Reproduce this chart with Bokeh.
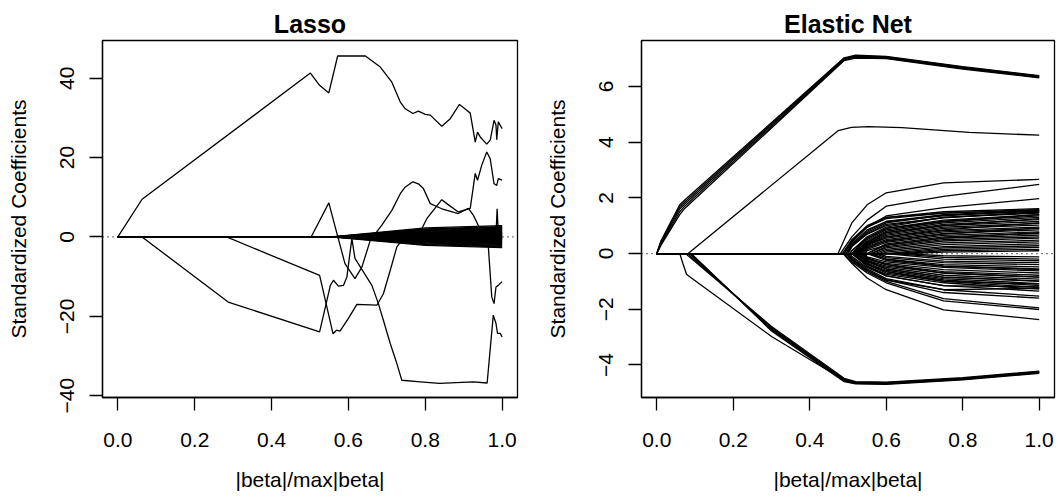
from bokeh.plotting import figure
from bokeh.layouts import row
from bokeh.models import Span, FixedTicker, Range1d
from bokeh.embed import file_html
from bokeh.resources import INLINE

# ---------------- data ----------------
x_ticks = [0.0, 0.2, 0.4, 0.6, 0.8, 1.0]
lasso_y_ticks = [-40, -20, 0, 20, 40]
enet_y_ticks = [-4, -2, 0, 2, 4, 6]

# Lasso: prominent coefficient paths
lasso_A_x = [0, 0.063, 0.501, 0.525, 0.549, 0.572, 0.644, 0.683, 0.713, 0.735, 0.748, 0.768, 0.782, 0.800, 0.813,
             0.843, 0.865, 0.889, 0.908, 0.917, 0.930, 0.936, 0.943, 0.960, 0.969, 0.979, 0.984, 0.986, 0.990, 1.0]
lasso_A_y = [0, 9.5, 41.3, 38.2, 36.3, 45.6, 45.6, 42.8, 39.0, 34.0, 32.3, 31.1, 31.7, 30.9, 30.7,
             27.9, 29.8, 33.4, 31.9, 31.2, 23.9, 26.4, 25.2, 23.4, 24.4, 29.4, 28.2, 24.5, 29.0, 27.3]
lasso_B_x = [0, 0.503, 0.549, 0.570, 0.591, 0.617, 0.635, 0.657, 0.687, 0.713, 0.735, 0.748, 0.768, 0.782, 0.795,
             0.813, 0.843, 0.886, 0.912, 0.925, 0.940, 1.0]
lasso_B_y = [0, 0, 8.6, 0.9, -6.7, -10.5, -7.6, -0.8, 3.0, 6.7, 10.9, 12.6, 13.9, 13.4, 12.2,
             8.4, 7.1, 5.9, 7.2, 5.5, 2.5, 2.2]
lasso_C_x = [0, 0.283, 0.525, 0.560, 0.569, 0.578, 0.600, 0.622, 0.674, 0.691, 0.710, 0.726, 0.750, 0.787, 0.804,
             0.843, 0.856, 0.886, 0.917, 0.925, 0.930, 0.936, 0.947, 0.960, 0.969, 0.979, 0.986, 0.990, 1.0]
lasso_C_y = [0, 0, -9.7, -24.4, -23.5, -23.7, -20.5, -17.0, -17.2, -14.3, -8.0, -2.5, 0.5, 1.3, 4.6,
             9.4, 8.4, 6.3, 7.2, 12.6, 16.0, 14.3, 18.1, 21.4, 19.7, 13.4, 13.0, 14.7, 14.3]
lasso_D_x = [0, 0.063, 0.287, 0.525, 0.553, 0.561, 0.574, 0.587, 0.596, 0.605, 0.609, 0.617, 0.639, 0.661, 0.678,
             0.691, 0.709, 0.726, 0.739, 0.787, 0.837, 0.925, 0.961, 0.977, 0.984, 0.988, 0.995, 1.0]
lasso_D_y = [0, 0, -16.4, -23.9, -12.2, -10.9, -12.4, -12.2, -10.1, -3.3, -0.4, -5.4, -8.8, -12.2, -16.8,
             -21.0, -26.9, -31.9, -36.1, -36.5, -36.9, -36.5, -36.8, -19.7, -21.8, -24.3, -24.3, -25.2]
lasso_E_x = [0, 0.62, 0.964, 0.973, 0.979, 0.984, 0.990, 0.995, 1.0]
lasso_E_y = [0, 0, -2.3, -15.1, -16.8, -12.6, -12.2, -11.7, -11.3]
lasso_F_x = [0, 0.97, 0.984, 0.987, 0.990, 1.0]
lasso_F_y = [0, 0, 0.5, 7.1, 0.8, 1.0]

# Lasso: many small coefficients (entry point, value at 0.8, value at 1.0)
lasso_fan_start = [0.555, 0.558, 0.560, 0.562, 0.565, 0.570, 0.575, 0.580, 0.590, 0.600, 0.620, 0.640, 0.670,
                   0.700, 0.740, 0.780, 0.850, 0.900, 0.950,
                   0.555, 0.558, 0.560, 0.563, 0.567, 0.570, 0.575, 0.580, 0.590, 0.600, 0.620, 0.640, 0.670,
                   0.700, 0.740, 0.780, 0.850, 0.900, 0.950, 0.565, 0.585, 0.610, 0.660, 0.720]
lasso_fan_mid = [2.3, 2.0, 1.8, 1.6, 1.4, 1.2, 1.0, 0.9, 0.8, 0.7, 0.55, 0.45, 0.35,
                 0.25, 0.15, 0.05, 0, 0, 0,
                 -2.1, -1.9, -1.7, -1.5, -1.3, -1.15, -1.0, -0.9, -0.8, -0.7, -0.55, -0.45, -0.35,
                 -0.25, -0.15, -0.05, 0, 0, 0, 1.9, 1.1, -0.6, 0.3, -0.2]
lasso_fan_end = [2.85, 2.6, 2.4, 2.2, 2.0, 1.8, 1.6, 1.4, 1.25, 1.1, 0.95, 0.8, 0.65,
                 0.5, 0.4, 0.3, 0.2, 0.15, 0.1,
                 -2.7, -2.5, -2.3, -2.1, -1.9, -1.7, -1.5, -1.35, -1.2, -1.05, -0.9, -0.75, -0.6,
                 -0.45, -0.35, -0.28, -0.2, -0.15, -0.1, 2.5, 1.7, -1.2, 0.55, -0.5]

# Elastic net: upper bundle
enet_up_x = [0, 0.011, 0.06, 0.073, 0.49, 0.52, 0.6, 0.8, 1.0]
enet_up1_y = [0, 0.30, 1.40, 1.62, 6.93, 7.02, 7.00, 6.62, 6.31]
enet_up2_y = [0, 0.34, 1.50, 1.70, 6.96, 7.05, 7.02, 6.65, 6.33]
enet_up3_y = [0, 0.38, 1.60, 1.78, 6.99, 7.08, 7.04, 6.67, 6.35]
enet_up4_y = [0, 0.42, 1.68, 1.85, 7.01, 7.10, 7.06, 6.69, 6.37]
enet_up5_y = [0, 0.46, 1.75, 1.92, 7.03, 7.12, 7.08, 6.71, 6.39]
# Elastic net: middle path
enet_mid_x = [0, 0.082, 0.474, 0.509, 0.553, 0.641, 0.817, 1.0]
enet_mid_y = [0, 0, 4.41, 4.53, 4.56, 4.52, 4.35, 4.25]
# Elastic net: lower bundle
enet_lo0_x = [0, 0.06, 0.068, 0.078, 0.3, 0.49, 0.52, 0.6, 0.8, 1.0]
enet_lo0_y = [0, 0, -0.35, -0.75, -2.98, -4.55, -4.65, -4.66, -4.50, -4.27]
enet_lo_start = [0.075, 0.08, 0.085, 0.088, 0.09]
enet_lo_x = [0.3, 0.49, 0.52, 0.6, 0.8, 1.0]
enet_lo1_y = [-2.62, -4.48, -4.60, -4.62, -4.46, -4.22]
enet_lo2_y = [-2.66, -4.52, -4.62, -4.64, -4.48, -4.24]
enet_lo3_y = [-2.70, -4.55, -4.64, -4.66, -4.50, -4.26]
enet_lo4_y = [-2.74, -4.58, -4.66, -4.68, -4.52, -4.28]
enet_lo5_y = [-2.78, -4.60, -4.68, -4.70, -4.54, -4.30]

# Elastic net: the fan of small coefficients (entry point; values at 0.51, 0.55, 0.6, 0.75, 1.0)
enet_fan_grid = [0.51, 0.55, 0.6, 0.75, 1.0]
enet_fan_start = [0.474, 0.48, 0.49, 0.485, 0.49, 0.495, 0.50, 0.50, 0.505, 0.51, 0.51, 0.515, 0.52, 0.52, 0.525,
                  0.53, 0.53, 0.535, 0.54, 0.545, 0.55, 0.55, 0.56, 0.56, 0.57, 0.58, 0.59, 0.60, 0.62, 0.64, 0.66,
                  0.487, 0.49, 0.495, 0.50, 0.50, 0.505, 0.51, 0.51, 0.515, 0.52, 0.52, 0.525, 0.53, 0.535, 0.54,
                  0.545, 0.55, 0.56, 0.57, 0.58, 0.60, 0.62, 0.64,
                  0.488, 0.495, 0.50, 0.505, 0.515, 0.525, 0.535, 0.545, 0.50, 0.51, 0.52, 0.53, 0.54, 0.555]
enet_fan_v1 = [1.10, 0.60, 0.40, 0.50, 0.45, 0.35, 0.25, 0.30, 0.10, 0, 0, 0, 0, 0, 0,
               0, 0, 0, 0, 0, 0, 0, 0, 0, 0, 0, 0, 0, 0, 0, 0,
               -0.35, -0.30, -0.25, -0.20, -0.15, -0.10, 0, 0, 0, 0, 0, 0, 0, 0, 0,
               0, 0, 0, 0, 0, 0, 0, 0,
               0.45, 0.30, 0.25, 0.10, 0, 0, 0, 0, -0.20, 0, 0, 0, 0, 0]
enet_fan_v2 = [1.75, 1.20, 0.95, 1.00, 0.95, 0.85, 0.75, 0.70, 0.60, 0.55, 0.50, 0.45, 0.40, 0.35, 0.35,
               0.30, 0.30, 0.25, 0.20, 0.15, 0, 0, 0, 0, 0, 0, 0, 0, 0, 0, 0,
               -0.88, -0.70, -0.65, -0.60, -0.55, -0.50, -0.45, -0.40, -0.38, -0.35, -0.30, -0.28, -0.25, -0.20, -0.18,
               -0.12, 0, 0, 0, 0, 0, 0, 0,
               0.95, 0.80, 0.70, 0.55, 0.40, 0.30, 0.20, 0.10, -0.60, -0.45, -0.35, -0.25, -0.15, 0]
enet_fan_v3 = [2.18, 1.70, 1.35, 1.30, 1.25, 1.15, 1.10, 1.00, 0.95, 0.90, 0.85, 0.80, 0.75, 0.70, 0.65,
               0.60, 0.55, 0.50, 0.45, 0.40, 0.35, 0.30, 0.25, 0.20, 0.15, 0.10, 0.05, 0, 0, 0, 0,
               -1.30, -1.05, -1.00, -0.95, -0.90, -0.80, -0.75, -0.70, -0.65, -0.60, -0.55, -0.50, -0.45, -0.40, -0.35,
               -0.30, -0.25, -0.20, -0.15, -0.10, 0, 0, 0,
               1.30, 1.15, 1.05, 0.90, 0.75, 0.60, 0.45, 0.30, -0.95, -0.80, -0.65, -0.55, -0.40, -0.20]
enet_fan_v4 = [2.54, 2.05, 1.65, 1.50, 1.45, 1.40, 1.38, 1.30, 1.30, 1.20, 1.15, 1.10, 1.05, 1.00, 0.95,
               0.90, 0.82, 0.78, 0.72, 0.65, 0.60, 0.55, 0.50, 0.45, 0.38, 0.32, 0.25, 0.20, 0.15, 0.10, 0.05,
               -2.02, -1.70, -1.62, -1.40, -1.30, -1.15, -1.05, -1.00, -0.95, -0.90, -0.85, -0.78, -0.70, -0.65, -0.58,
               -0.50, -0.45, -0.40, -0.33, -0.27, -0.20, -0.14, -0.08,
               1.45, 1.35, 1.28, 1.15, 1.00, 0.85, 0.70, 0.55, -1.30, -1.15, -1.00, -0.85, -0.70, -0.45]
enet_fan_v5 = [2.66, 2.48, 1.97, 1.61, 1.57, 1.54, 1.52, 1.48, 1.45, 1.40, 1.35, 1.30, 1.22, 1.15, 1.08,
               1.02, 0.95, 0.90, 0.85, 0.78, 0.72, 0.66, 0.60, 0.55, 0.48, 0.42, 0.35, 0.28, 0.22, 0.15, 0.10,
               -2.37, -2.01, -1.95, -1.60, -1.53, -1.35, -1.28, -1.22, -1.15, -1.08, -1.00, -0.92, -0.85, -0.78, -0.70,
               -0.62, -0.55, -0.48, -0.40, -0.33, -0.26, -0.20, -0.12,
               1.58, 1.55, 1.50, 1.40, 1.25, 1.10, 0.92, 0.75, -1.25, -1.20, -1.10, -0.98, -0.85, -0.58]

# ---------------- helpers ----------------
FONT = "Liberation Sans"


def fmt_tick(t):
    s = f"{t:.1f}" if isinstance(t, float) else str(t)
    return s.replace("-", "\u2212")


def make_fig(title, width, mbl, mbr, xr, yr, yticks):
    p = figure(width=width, height=497, x_range=Range1d(*xr), y_range=Range1d(*yr),
               output_backend="svg", toolbar_location=None,
               min_border_left=mbl, min_border_right=mbr, min_border_top=40, min_border_bottom=100)
    p.background_fill_color = "white"
    p.border_fill_color = "white"
    p.outline_line_color = "black"
    p.outline_line_width = 1.3
    p.outline_line_alpha = 1.0
    p.grid.visible = False
    p.title.text = title
    p.title.align = "center"
    p.title.text_font = FONT
    p.title.text_font_style = "bold"
    p.title.text_font_size = "25px"
    p.title.text_color = "black"
    p.title.standoff = 5
    for ax, ticks in ((p.xaxis[0], x_ticks), (p.yaxis[0], yticks)):
        ax.ticker = FixedTicker(ticks=ticks)
        ax.major_label_overrides = {t: fmt_tick(t) for t in ticks}
        ax.minor_tick_line_color = None
        ax.major_tick_in = 0
        ax.major_tick_out = 13
        ax.major_tick_line_width = 1.3
        ax.major_tick_line_color = "black"
        ax.axis_line_color = "black"
        ax.axis_line_width = 1.3
        ax.major_label_text_font = FONT
        ax.major_label_text_font_size = "21px"
        ax.major_label_text_color = "black"
        ax.axis_label_text_font = FONT
        ax.axis_label_text_font_size = "21px"
        ax.axis_label_text_font_style = "normal"
        ax.axis_label_text_color = "black"
    p.xaxis.axis_label = "|beta|/max|beta|"
    p.xaxis.major_label_standoff = 22
    p.xaxis.axis_label_standoff = 18
    p.yaxis.axis_label = "Standardized Coefficients"
    p.yaxis.major_label_orientation = "vertical"
    p.yaxis.major_label_standoff = 15
    p.yaxis.axis_label_standoff = 28
    p.add_layout(Span(location=0, dimension="width", line_color="black", line_dash="1 4", line_width=1.3))
    return p


LW = 1.3

# ---------------- Lasso ----------------
p1 = make_fig("Lasso", 529, 102, 12, (-0.04, 1.04), (-40.45, 49.5), lasso_y_ticks)
xs, ys = [], []
for s, m, e in zip(lasso_fan_start, lasso_fan_mid, lasso_fan_end):
    if s < 0.8:
        xs.append([0, s, 0.8, 1.0]); ys.append([0, 0, m, e])
    else:
        xs.append([0, s, 1.0]); ys.append([0, 0, e])
for px, py in ((lasso_A_x, lasso_A_y), (lasso_B_x, lasso_B_y), (lasso_C_x, lasso_C_y),
               (lasso_D_x, lasso_D_y), (lasso_E_x, lasso_E_y), (lasso_F_x, lasso_F_y)):
    xs.append(px); ys.append(py)
p1.multi_line(xs=xs, ys=ys, line_color="black", line_width=LW)

# ---------------- Elastic Net ----------------
p2 = make_fig("Elastic Net", 530, 112, 5, (-0.04, 1.04), (-5.17, 7.65), enet_y_ticks)
xs, ys = [], []
for s, a, b, c, d, e in zip(enet_fan_start, enet_fan_v1, enet_fan_v2, enet_fan_v3, enet_fan_v4, enet_fan_v5):
    lx, ly = [0, s], [0, 0]
    for gx, gy in zip(enet_fan_grid, (a, b, c, d, e)):
        if gx > s:
            lx.append(gx); ly.append(gy)
    xs.append(lx); ys.append(ly)
for uy in (enet_up1_y, enet_up2_y, enet_up3_y, enet_up4_y, enet_up5_y):
    xs.append(enet_up_x); ys.append(uy)
xs.append(enet_mid_x); ys.append(enet_mid_y)
xs.append(enet_lo0_x); ys.append(enet_lo0_y)
for s, ly in zip(enet_lo_start, (enet_lo1_y, enet_lo2_y, enet_lo3_y, enet_lo4_y, enet_lo5_y)):
    xs.append([0, s] + enet_lo_x); ys.append([0, 0] + ly)
p2.multi_line(xs=xs, ys=ys, line_color="black", line_width=LW)

layout = row(p1, p2)
open("out.html", "w").write(file_html(layout, INLINE))
